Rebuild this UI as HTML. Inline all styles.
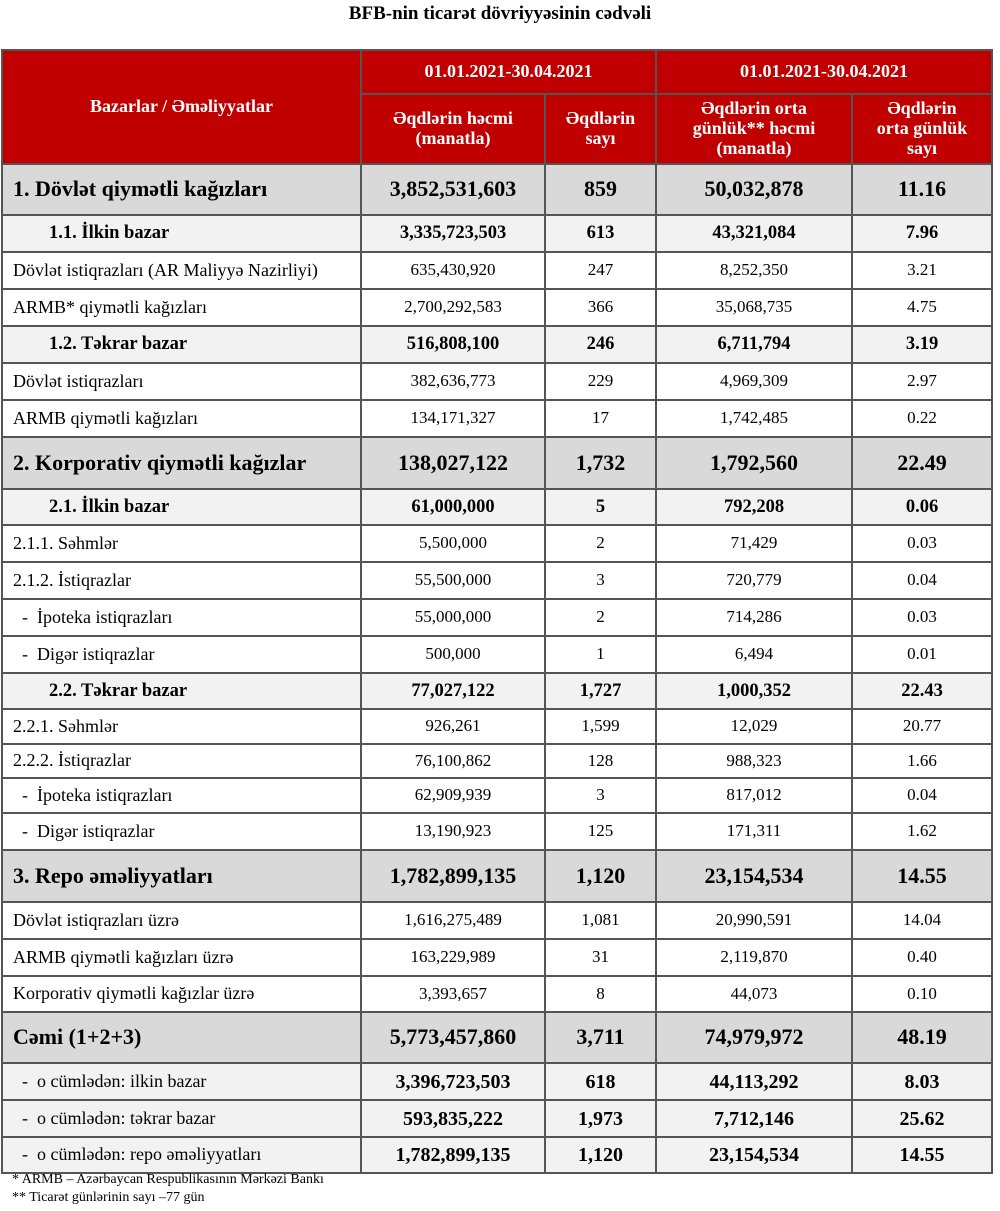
<!DOCTYPE html>
<html><head><meta charset="utf-8"><style>
body{margin:0;background:#fff;width:1000px;height:1211px;overflow:hidden;font-family:"Liberation Serif",serif;color:#000}
.t{position:absolute;top:3px;left:0;width:1000px;text-align:center;font-weight:bold;font-size:19px}
table{position:absolute;left:1px;top:49px;border-collapse:collapse;table-layout:fixed}
td{border:2px solid #555;text-align:center;font-size:17px;padding:0;line-height:1.1}
td:first-child{text-align:left;padding-left:10px;font-size:18px}
.h td{background:#c00000;color:#fff;font-weight:bold;text-align:center!important;padding:0;font-size:18px}
.b td{background:#d9d9d9;font-weight:bold;font-size:22px}
.b td:first-child{font-size:22px}
.s td{background:#f2f2f2;font-weight:bold;font-size:18.5px}
.s td:first-child{padding-left:46px;font-size:18.5px}
.o td{background:#f2f2f2;font-weight:bold;font-size:20px}
.o td:first-child{font-weight:normal;font-size:18px}
.f{position:absolute;left:12px;font-size:14px}
</style></head><body>
<div class="t">BFB-nin ticarət dövriyyəsinin cədvəli</div>
<table>
<colgroup><col style="width:359px"><col style="width:184px"><col style="width:111px"><col style="width:196px"><col style="width:140px"></colgroup>
<tr class="h" style="height:44px"><td rowspan="2">Bazarlar / Əməliyyatlar</td><td colspan="2">01.01.2021-30.04.2021</td><td colspan="2">01.01.2021-30.04.2021</td></tr>
<tr class="h" style="height:70px"><td>Əqdlərin həcmi<br>(manatla)</td><td>Əqdlərin<br>sayı</td><td>Əqdlərin orta<br>günlük** həcmi<br>(manatla)</td><td>Əqdlərin<br>orta günlük<br>sayı</td></tr>
<tr class="b" style="height:51px"><td>1. Dövlət qiymətli kağızları</td><td>3,852,531,603</td><td>859</td><td>50,032,878</td><td>11.16</td></tr>
<tr class="s" style="height:37px"><td>1.1. İlkin bazar</td><td>3,335,723,503</td><td>613</td><td>43,321,084</td><td>7.96</td></tr>
<tr style="height:37px"><td>Dövlət istiqrazları (AR Maliyyə Nazirliyi)</td><td>635,430,920</td><td>247</td><td>8,252,350</td><td>3.21</td></tr>
<tr style="height:37px"><td>ARMB* qiymətli kağızları</td><td>2,700,292,583</td><td>366</td><td>35,068,735</td><td>4.75</td></tr>
<tr class="s" style="height:37px"><td>1.2. Təkrar bazar</td><td>516,808,100</td><td>246</td><td>6,711,794</td><td>3.19</td></tr>
<tr style="height:37px"><td>Dövlət istiqrazları</td><td>382,636,773</td><td>229</td><td>4,969,309</td><td>2.97</td></tr>
<tr style="height:37px"><td>ARMB qiymətli kağızları</td><td>134,171,327</td><td>17</td><td>1,742,485</td><td>0.22</td></tr>
<tr class="b" style="height:52px"><td>2. Korporativ qiymətli kağızlar</td><td>138,027,122</td><td>1,732</td><td>1,792,560</td><td>22.49</td></tr>
<tr class="s" style="height:36px"><td>2.1. İlkin bazar</td><td>61,000,000</td><td>5</td><td>792,208</td><td>0.06</td></tr>
<tr style="height:37px"><td>2.1.1. Səhmlər</td><td>5,500,000</td><td>2</td><td>71,429</td><td>0.03</td></tr>
<tr style="height:37px"><td>2.1.2. İstiqrazlar</td><td>55,500,000</td><td>3</td><td>720,779</td><td>0.04</td></tr>
<tr style="height:37px"><td>&nbsp; -&nbsp; İpoteka istiqrazları</td><td>55,000,000</td><td>2</td><td>714,286</td><td>0.03</td></tr>
<tr style="height:37px"><td>&nbsp; -&nbsp; Digər istiqrazlar</td><td>500,000</td><td>1</td><td>6,494</td><td>0.01</td></tr>
<tr class="s" style="height:36px"><td>2.2. Təkrar bazar</td><td>77,027,122</td><td>1,727</td><td>1,000,352</td><td>22.43</td></tr>
<tr style="height:35px"><td>2.2.1. Səhmlər</td><td>926,261</td><td>1,599</td><td>12,029</td><td>20.77</td></tr>
<tr style="height:34px"><td>2.2.2. İstiqrazlar</td><td>76,100,862</td><td>128</td><td>988,323</td><td>1.66</td></tr>
<tr style="height:35px"><td>&nbsp; -&nbsp; İpoteka istiqrazları</td><td>62,909,939</td><td>3</td><td>817,012</td><td>0.04</td></tr>
<tr style="height:37px"><td>&nbsp; -&nbsp; Digər istiqrazlar</td><td>13,190,923</td><td>125</td><td>171,311</td><td>1.62</td></tr>
<tr class="b" style="height:52px"><td>3. Repo əməliyyatları</td><td>1,782,899,135</td><td>1,120</td><td>23,154,534</td><td>14.55</td></tr>
<tr style="height:37px"><td>Dövlət istiqrazları üzrə</td><td>1,616,275,489</td><td>1,081</td><td>20,990,591</td><td>14.04</td></tr>
<tr style="height:37px"><td>ARMB qiymətli kağızları üzrə</td><td>163,229,989</td><td>31</td><td>2,119,870</td><td>0.40</td></tr>
<tr style="height:36px"><td>Korporativ qiymətli kağızlar üzrə</td><td>3,393,657</td><td>8</td><td>44,073</td><td>0.10</td></tr>
<tr class="b" style="height:51px"><td>Cəmi (1+2+3)</td><td>5,773,457,860</td><td>3,711</td><td>74,979,972</td><td>48.19</td></tr>
<tr class="o" style="height:37px"><td>&nbsp; -&nbsp; o cümlədən: ilkin bazar</td><td>3,396,723,503</td><td>618</td><td>44,113,292</td><td>8.03</td></tr>
<tr class="o" style="height:37px"><td>&nbsp; -&nbsp; o cümlədən: təkrar bazar</td><td>593,835,222</td><td>1,973</td><td>7,712,146</td><td>25.62</td></tr>
<tr class="o" style="height:36px"><td>&nbsp; -&nbsp; o cümlədən: repo əməliyyatları</td><td>1,782,899,135</td><td>1,120</td><td>23,154,534</td><td>14.55</td></tr>
</table>
<div class="f" style="top:1172px">* ARMB – Azərbaycan Respublikasının Mərkəzi Bankı</div>
<div class="f" style="top:1190px">** Ticarət günlərinin sayı –77 gün</div>
</body></html>
